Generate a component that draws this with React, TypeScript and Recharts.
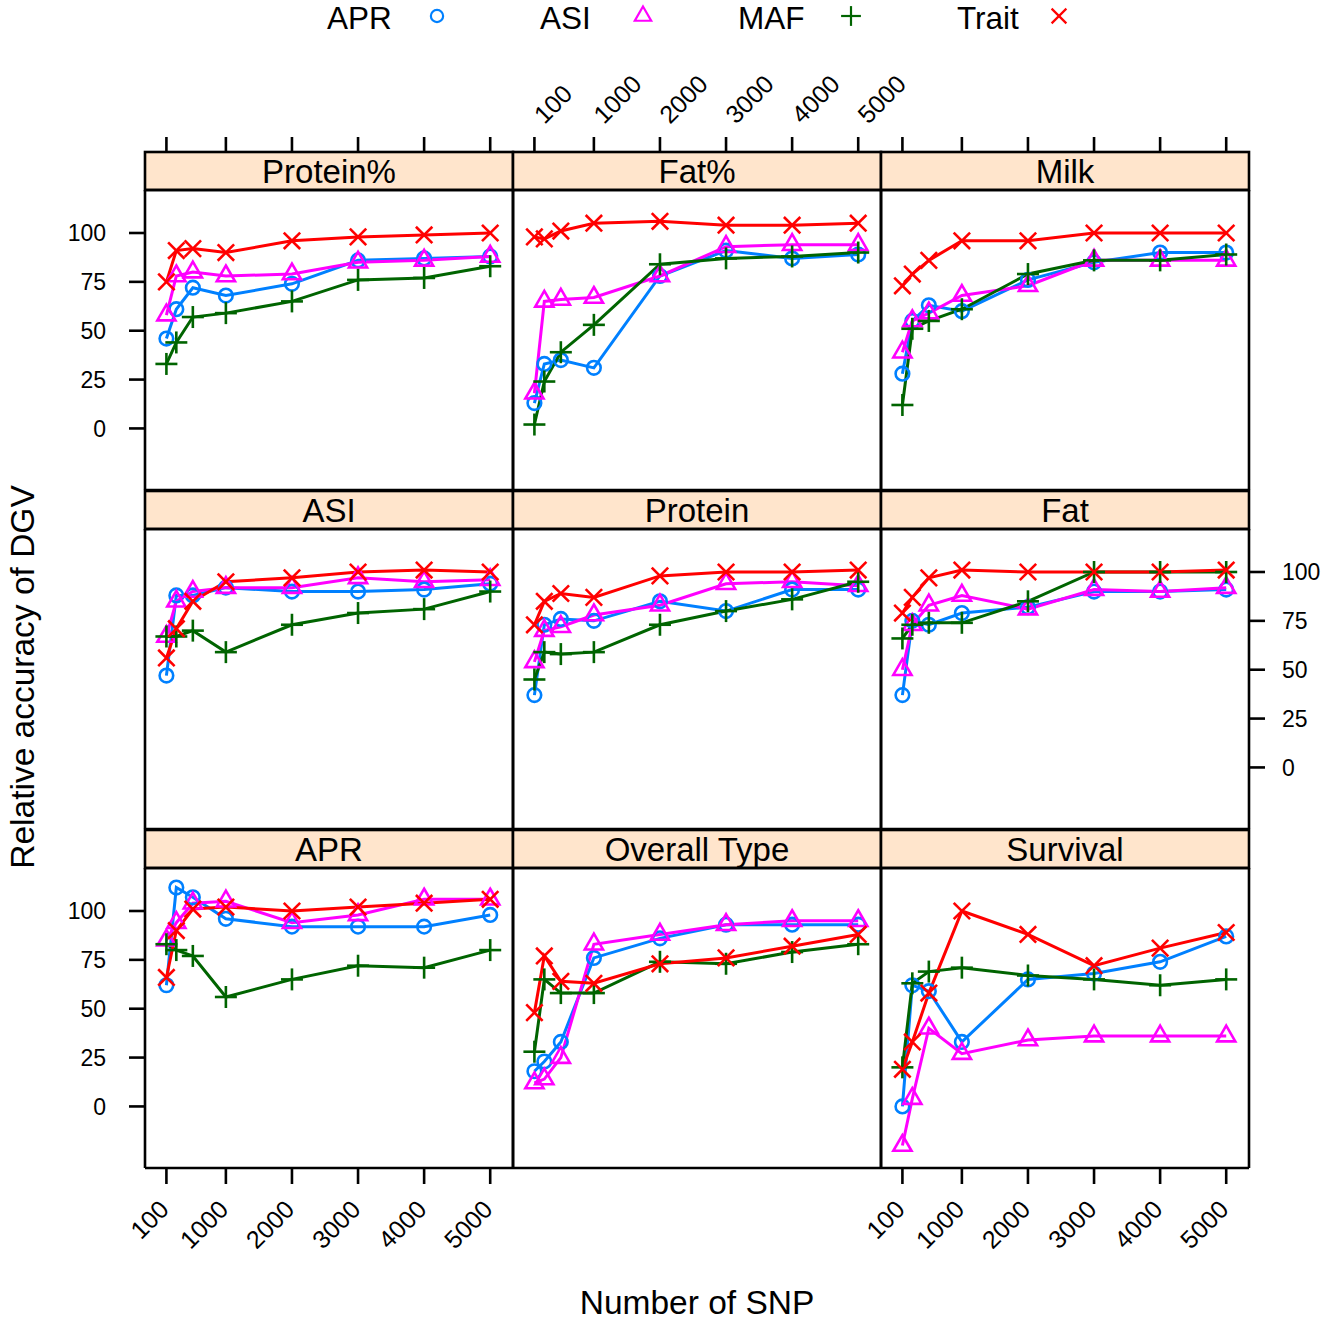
import React from "react"
import { Line, LineChart, XAxis, YAxis } from "recharts"

// values, one entry per SNP count
const snp = [100, 250, 500, 1000, 2000, 3000, 4000, 5000]
const xTicks = [100, 1000, 2000, 3000, 4000, 5000]
const yTicks = [0, 25, 50, 75, 100]

const proteinPct = {
  APR: [46, 61, 72, 68, 74, 86, 87, 88],
  ASI: [58, 78, 80, 78, 79, 85, 86, 88],
  MAF: [33, 44, 57, 59, 65, 76, 77, 83],
  Trait: [75, 91, 92, 90, 96, 98, 99, 100],
}
const fatPct = {
  APR: [13, 33, 35, 31, 78, 91, 87, 89],
  ASI: [18, 65, 66, 67, 78, 93, 94, 94],
  MAF: [2, 24, 39, 53, 84, 87, 88, 90],
  Trait: [98, 97, 101, 105, 106, 104, 104, 105],
}
const milk = {
  APR: [28, 55, 63, 60, 76, 85, 90, 90],
  ASI: [39, 55, 59, 68, 73, 86, 86, 86],
  MAF: [12, 51, 55, 61, 79, 86, 86, 89],
  Trait: [73, 79, 86, 96, 96, 100, 100, 100],
}
const asi = {
  APR: [47, 88, 88, 92, 90, 90, 91, 94],
  ASI: [67, 85, 90, 92, 92, 97, 95, 96],
  MAF: [67, 67, 70, 59, 73, 79, 81, 90],
  Trait: [56, 71, 85, 95, 97, 100, 101, 100],
}
const protein = {
  APR: [37, 73, 76, 75, 85, 80, 91, 91],
  ASI: [54, 70, 72, 78, 83, 94, 95, 93],
  MAF: [45, 59, 58, 59, 73, 80, 86, 95],
  Trait: [73, 85, 89, 87, 98, 100, 100, 101],
}
const fat = {
  APR: [37, 75, 73, 79, 82, 90, 90, 91],
  ASI: [50, 73, 83, 88, 81, 91, 90, 92],
  MAF: [66, 73, 74, 74, 85, 100, 100, 100],
  Trait: [79, 87, 97, 101, 100, 100, 100, 101],
}
const apr = {
  APR: [62, 112, 107, 96, 92, 92, 92, 98],
  ASI: [85, 94, 104, 105, 94, 98, 106, 106],
  MAF: [83, 80, 77, 56, 65, 72, 71, 80],
  Trait: [66, 90, 101, 102, 100, 102, 104, 106],
}
const overallType = {
  APR: [18, 23, 33, 76, 86, 93, 93, 93],
  ASI: [12, 14, 25, 83, 88, 93, 95, 95],
  MAF: [28, 65, 58, 58, 74, 73, 79, 83],
  Trait: [48, 77, 64, 63, 73, 76, 82, 88],
}
const survival = {
  APR: [0, 62, 59, 33, 65, 68, 74, 87],
  ASI: [-20, 4, 40, 27, 34, 36, 36, 36],
  MAF: [20, 63, 69, 71, 67, 65, 62, 65],
  Trait: [19, 33, 58, 100, 88, 72, 81, 89],
}

const panels = [
  { title: "Protein%", values: proteinPct },
  { title: "Fat%", values: fatPct },
  { title: "Milk", values: milk },
  { title: "ASI", values: asi },
  { title: "Protein", values: protein },
  { title: "Fat", values: fat },
  { title: "APR", values: apr },
  { title: "Overall Type", values: overallType },
  { title: "Survival", values: survival },
]

const series = [
  { key: "APR", color: "#0080ff", shape: "circle" },
  { key: "ASI", color: "#ff00ff", shape: "triangle" },
  { key: "MAF", color: "#006400", shape: "plus" },
  { key: "Trait", color: "#ff0000", shape: "cross" },
]

// layout
const M = 130
const W = 368
const H = 300
const STRIP = 38
const COL_X = [145, 513, 881]
const ROW_Y = [190, 529, 868]
const X_DOMAIN = [-224, 5345]
const Y_DOMAIN = [-31.5, 122]
const FONT = '"Liberation Sans", Arial, Helvetica, sans-serif'
const LEGEND_TEXT_X = [327, 540, 738, 957]
const LEGEND_SYM_X = [437, 643, 851, 1059]
const BORDER = 2.6
const X_LABEL_SIZE = 25

const Marker = ({ shape, cx, cy, color, sw = 2.6, scale = 1 }: any) => {
  if (shape === "circle") {
    return <circle cx={cx} cy={cy} r={6.8 * scale} fill="none" stroke={color} strokeWidth={sw} />
  }
  if (shape === "triangle") {
    const r = 10.5 * scale
    const pts = `${cx},${cy - r} ${cx + 0.866 * r},${cy + r / 2} ${cx - 0.866 * r},${cy + r / 2}`
    return <polygon points={pts} fill="none" stroke={color} strokeWidth={sw} />
  }
  if (shape === "plus") {
    const a = 11 * scale
    return (
      <g stroke={color} strokeWidth={sw}>
        <line x1={cx - a} x2={cx + a} y1={cy} y2={cy} />
        <line x1={cx} x2={cx} y1={cy - a} y2={cy + a} />
      </g>
    )
  }
  const a = 8.2 * scale
  return (
    <g stroke={color} strokeWidth={sw}>
      <line x1={cx - a} x2={cx + a} y1={cy - a} y2={cy + a} />
      <line x1={cx - a} x2={cx + a} y1={cy + a} y2={cy - a} />
    </g>
  )
}

const BottomTick = ({ x, y, payload }: any) => {
  const ax = x + 4
  const ay = y + 25
  return (
    <text x={ax} y={ay} transform={`rotate(-45 ${ax} ${ay})`} textAnchor="end" fontSize={X_LABEL_SIZE} fill="#000">
      {payload.value}
    </text>
  )
}

// top ticks sit above the strip, so they are drawn from the tick's x, shifted up by the strip height
const makeTopTick = (withLabel: boolean) => (props: any) => {
  const { x, y, payload } = props
  const top = y - STRIP
  const ax = x + 10
  const ay = top - 27
  return (
    <g>
      <line x1={x} x2={x} y1={top} y2={top - 15} stroke="#000" strokeWidth={BORDER} />
      {withLabel && (
        <text x={ax} y={ay} transform={`rotate(-45 ${ax} ${ay})`} textAnchor="start" fontSize={X_LABEL_SIZE} fill="#000">
          {payload.value}
        </text>
      )}
    </g>
  )
}

function Panel({ panel, row, col }: any) {
  const rows = snp.map((x, i) => ({
    snp: x,
    APR: panel.values.APR[i],
    ASI: panel.values.ASI[i],
    MAF: panel.values.MAF[i],
    Trait: panel.values.Trait[i],
  }))
  const isTop = row === 0
  const isBottom = row === 2
  const isLeft = col === 0
  const isRight = col === 2
  const line = { stroke: "#000", strokeWidth: BORDER }
  const tickText = { fill: "#000", fontSize: 23 }
  // axes need a size of at least 1px to be drawn, so the margin gives that pixel back
  const m = M - 1

  return (
    <div style={{ position: "absolute", left: COL_X[col] - M, top: ROW_Y[row] - M }}>
      <LineChart width={W + 2 * M} height={H + 2 * M} data={rows} margin={{ top: m, right: m, bottom: m, left: m }}>
        <XAxis
          xAxisId="b"
          dataKey="snp"
          type="number"
          orientation="bottom"
          domain={X_DOMAIN}
          ticks={xTicks}
          interval={0}
          allowDataOverflow
          height={1}
          axisLine={line}
          tickLine={isBottom ? line : false}
          tickSize={16}
          tickMargin={2}
          tick={isBottom && col !== 1 ? <BottomTick /> : false}
        />
        <XAxis
          xAxisId="t"
          dataKey="snp"
          type="number"
          orientation="top"
          domain={X_DOMAIN}
          ticks={xTicks}
          interval={0}
          allowDataOverflow
          height={1}
          axisLine={line}
          tickLine={false}
          tickSize={0}
          tickMargin={0}
          tick={isTop ? makeTopTick(col === 1) : false}
        />
        <YAxis
          yAxisId="l"
          type="number"
          orientation="left"
          domain={Y_DOMAIN}
          ticks={yTicks}
          interval={0}
          allowDataOverflow
          width={1}
          axisLine={line}
          tickLine={isLeft ? line : false}
          tickSize={16}
          tickMargin={23}
          tick={isLeft && row !== 1 ? tickText : false}
        />
        <YAxis
          yAxisId="r"
          type="number"
          orientation="right"
          domain={Y_DOMAIN}
          ticks={yTicks}
          interval={0}
          allowDataOverflow
          width={1}
          axisLine={line}
          tickLine={isRight ? line : false}
          tickSize={16}
          tickMargin={17}
          tick={isRight && row === 1 ? tickText : false}
        />
        {series.map((s) => (
          <Line
            key={s.key}
            xAxisId="b"
            yAxisId="l"
            type="linear"
            dataKey={s.key}
            stroke={s.color}
            strokeWidth={3}
            isAnimationActive={false}
            activeDot={false}
            dot={(p: any) => <Marker key={`${s.key}-${p.index}`} shape={s.shape} cx={p.cx} cy={p.cy} color={s.color} />}
          />
        ))}
      </LineChart>
    </div>
  )
}

export default function App() {
  return (
    <div
      style={{
        position: "absolute",
        left: 0,
        top: 0,
        width: 1328,
        height: 1325,
        overflow: "hidden",
        background: "#fff",
        fontFamily: FONT,
      }}
    >
      <svg width={1328} height={1325} style={{ position: "absolute", left: 0, top: 0 }} fontFamily={FONT}>
        {series.map((s, i) => (
          <g key={s.key}>
            <text x={LEGEND_TEXT_X[i]} y={29} fontSize={31.5} fill="#000">
              {s.key}
            </text>
            <Marker shape={s.shape} cx={LEGEND_SYM_X[i]} cy={16} color={s.color} sw={2.2} scale={0.9} />
          </g>
        ))}
        {panels.map((p, i) => {
          const row = Math.floor(i / 3)
          const col = i % 3
          return (
            <g key={p.title}>
              <rect
                x={COL_X[col]}
                y={ROW_Y[row] - STRIP}
                width={W}
                height={STRIP}
                fill="#ffe5cc"
                stroke="#000"
                strokeWidth={BORDER}
              />
              <text x={COL_X[col] + W / 2} y={ROW_Y[row] - STRIP / 2 + 12} fontSize={33} textAnchor="middle" fill="#000">
                {p.title}
              </text>
            </g>
          )
        })}
        <text x={697} y={1314} fontSize={33.5} textAnchor="middle" fill="#000">
          Number of SNP
        </text>
        <text x={34} y={677} fontSize={33.5} textAnchor="middle" fill="#000" transform="rotate(-90 34 677)">
          Relative accuracy of DGV
        </text>
      </svg>
      {panels.map((p, i) => (
        <Panel key={p.title} panel={p} row={Math.floor(i / 3)} col={i % 3} />
      ))}
    </div>
  )
}
